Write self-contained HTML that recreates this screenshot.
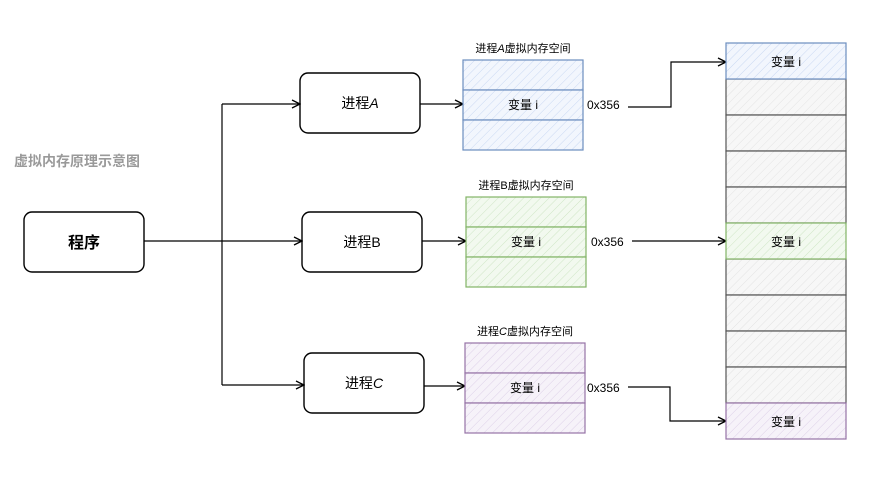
<!DOCTYPE html>
<html><head><meta charset="utf-8"><style>
body{margin:0;background:#fff;}
text{font-family:"Liberation Sans","Noto Sans CJK SC",sans-serif;}
</style></head><body>
<svg width="888" height="477" viewBox="0 0 888 477" xmlns="http://www.w3.org/2000/svg">
<defs>
<pattern id="hb" width="6" height="6" patternUnits="userSpaceOnUse" patternTransform="rotate(45)"><rect width="6" height="6" fill="#f2f6fd"/><line x1="0" y1="0" x2="0" y2="6" stroke="#c9d8f2" stroke-width="1"/></pattern>
<pattern id="hg" width="6" height="6" patternUnits="userSpaceOnUse" patternTransform="rotate(45)"><rect width="6" height="6" fill="#f2f9ef"/><line x1="0" y1="0" x2="0" y2="6" stroke="#cfe6c6" stroke-width="1"/></pattern>
<pattern id="hp" width="6" height="6" patternUnits="userSpaceOnUse" patternTransform="rotate(45)"><rect width="6" height="6" fill="#f6f2f9"/><line x1="0" y1="0" x2="0" y2="6" stroke="#ddd0e8" stroke-width="1"/></pattern>
<pattern id="hy" width="6" height="6" patternUnits="userSpaceOnUse" patternTransform="rotate(45)"><rect width="6" height="6" fill="#f7f7f7"/><line x1="0" y1="0" x2="0" y2="6" stroke="#e3e3e3" stroke-width="1"/></pattern>
<marker id="ar" markerWidth="10" markerHeight="10" refX="9" refY="5" orient="auto" markerUnits="userSpaceOnUse"><path d="M1,1 L9,5 L1,9" fill="none" stroke="#000" stroke-width="1.3"/></marker>
</defs>
<text x="14" y="166" font-size="14" font-weight="bold" fill="#9a9a9a">虚拟内存原理示意图</text>
<g fill="#fff" stroke="#000" stroke-width="1.4">
<rect x="24" y="212" width="120" height="60" rx="8"/>
<rect x="300" y="73" width="120" height="60" rx="8"/>
<rect x="302" y="212" width="120" height="60" rx="8"/>
<rect x="304" y="353" width="120" height="60" rx="8"/>
</g>
<text x="84" y="248" font-size="16" font-weight="bold" text-anchor="middle">程序</text>
<text x="360" y="108" font-size="14" text-anchor="middle">进程<tspan font-style="italic">A</tspan></text>
<text x="362" y="247" font-size="14" text-anchor="middle">进程B</text>
<text x="364" y="388" font-size="14" text-anchor="middle">进程<tspan font-style="italic">C</tspan></text>
<g fill="none" stroke="#000" stroke-width="1.2">
<path d="M144,241 H222"/>
<path d="M222,104 V385"/>
<path d="M222,104 H300" marker-end="url(#ar)"/>
<path d="M222,241 H302" marker-end="url(#ar)"/>
<path d="M222,385 H304" marker-end="url(#ar)"/>
<path d="M420,104 H463" marker-end="url(#ar)"/>
<path d="M422,241 H466" marker-end="url(#ar)"/>
<path d="M424,386 H465" marker-end="url(#ar)"/>
<path d="M628,107 H671 V62 H726" marker-end="url(#ar)"/>
<path d="M632,241 H726" marker-end="url(#ar)"/>
<path d="M628,387 H670 V421 H726" marker-end="url(#ar)"/>
</g>
<g font-size="11" text-anchor="middle">
<text x="523" y="52">进程<tspan font-style="italic">A</tspan>虚拟内存空间</text>
<text x="526" y="189">进程B虚拟内存空间</text>
<text x="525" y="335">进程<tspan font-style="italic">C</tspan>虚拟内存空间</text>
</g>
<g stroke="#6c8ebf" stroke-width="1.2" fill="url(#hb)">
<rect x="463" y="60" width="120" height="30"/><rect x="463" y="90" width="120" height="30"/><rect x="463" y="120" width="120" height="30"/>
</g>
<g stroke="#82b366" stroke-width="1.2" fill="url(#hg)">
<rect x="466" y="197" width="120" height="30"/><rect x="466" y="227" width="120" height="30"/><rect x="466" y="257" width="120" height="30"/>
</g>
<g stroke="#9673a6" stroke-width="1.2" fill="url(#hp)">
<rect x="465" y="343" width="120" height="30"/><rect x="465" y="373" width="120" height="30"/><rect x="465" y="403" width="120" height="30"/>
</g>
<g font-size="12" text-anchor="middle">
<text x="523" y="109">变量 i</text>
<text x="526" y="246">变量 i</text>
<text x="525" y="392">变量 i</text>
</g>
<g font-size="12">
<text x="587" y="109">0x356</text>
<text x="591" y="246">0x356</text>
<text x="587" y="392">0x356</text>
</g>
<g stroke="#555" stroke-width="1.2" fill="url(#hy)">
<rect x="726" y="79" width="120" height="36"/><rect x="726" y="115" width="120" height="36"/><rect x="726" y="151" width="120" height="36"/><rect x="726" y="187" width="120" height="36"/>
<rect x="726" y="259" width="120" height="36"/><rect x="726" y="295" width="120" height="36"/><rect x="726" y="331" width="120" height="36"/><rect x="726" y="367" width="120" height="36"/>
</g>
<rect x="726" y="43" width="120" height="36" stroke="#6c8ebf" stroke-width="1.2" fill="url(#hb)"/>
<rect x="726" y="223" width="120" height="36" stroke="#82b366" stroke-width="1.2" fill="url(#hg)"/>
<rect x="726" y="403" width="120" height="36" stroke="#9673a6" stroke-width="1.2" fill="url(#hp)"/>
<g font-size="12" text-anchor="middle">
<text x="786" y="66">变量 i</text>
<text x="786" y="246">变量 i</text>
<text x="786" y="426">变量 i</text>
</g>
</svg>
</body></html>
